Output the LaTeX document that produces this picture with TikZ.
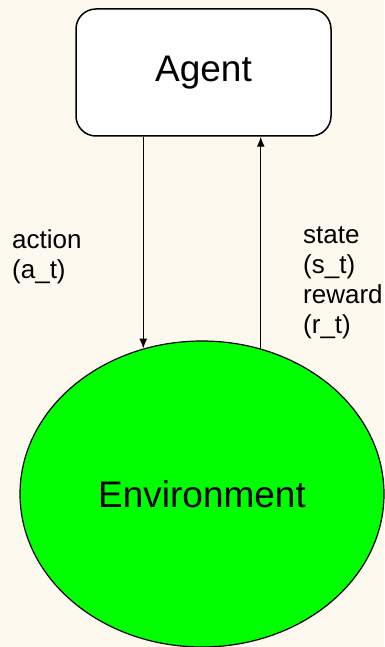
\documentclass[tikz,border=0pt]{standalone}
\usepackage{fontspec}
\setmainfont{Liberation Sans}
\usetikzlibrary{arrows.meta,shapes.geometric}
\definecolor{bgcream}{HTML}{FEF9EE}
\definecolor{envgreen}{HTML}{00FF00}
\begin{document}
\begin{tikzpicture}[x=1pt,y=-1pt,
  agentbox/.style={draw=black,line width=1.5pt,fill=white,rounded corners=20pt,
    minimum width=255pt,minimum height=127pt,inner sep=0pt,font=\fontsize{37}{40}\selectfont},
  envshape/.style={ellipse,draw=black,line width=1.2pt,fill=envgreen,
    minimum width=364pt,minimum height=306pt,inner sep=0pt,font=\fontsize{37}{40}\selectfont},
  lbl/.style={anchor=north west,inner sep=0pt,align=left,font=\fontsize{26}{30}\selectfont},
  conn/.style={line width=1.3pt,-{Latex[length=10pt,width=8pt]}}]
\useasboundingbox[fill=bgcream] (0,0) rectangle (384,647);
\node[agentbox] (agent) at (203.5,72.5) {Agent};
\node[envshape] (env) at (202,494) {Environment};
\draw[conn] (env.112.6 |- agent.south) -- (env.112.6);
\draw[conn] (env.68.6) -- (env.68.6 |- agent.south);
\node[lbl] (act) at (12,229) {action\\(a\_t)};
\node[lbl] (st) at (303,226) {state\\(s\_t)\\reward\\(r\_t)};
\end{tikzpicture}
\end{document}
